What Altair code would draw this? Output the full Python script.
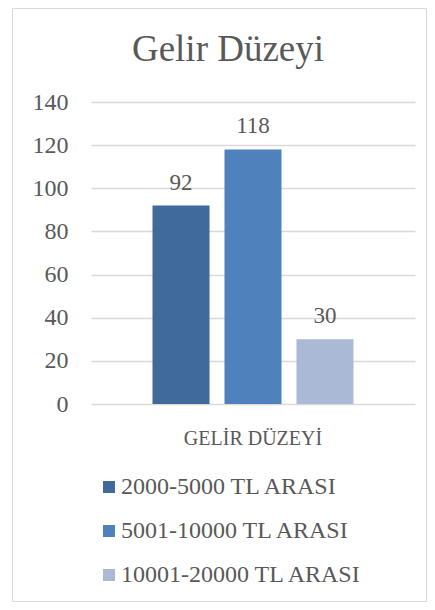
import altair as alt
import pandas as pd

title_text = ["Gelir Düzeyi"]
category = ["GELİR DÜZEYİ"]
series = ["2000-5000 TL ARASI", "5001-10000 TL ARASI", "10001-20000 TL ARASI"]
values = [92, 118, 30]
colors = ["#3f6a9a", "#4f81bd", "#aab9d6"]
y_ticks = [0, 20, 40, 60, 80, 100, 120, 140]

FONT = "Liberation Serif"
GREY = "#595959"

df = pd.DataFrame({"cat": category * len(series), "series": series, "value": values})
frame_df = pd.DataFrame({"t": title_text})

x_enc = alt.X("cat:N", title=None,
              scale=alt.Scale(paddingInner=0, paddingOuter=0.306),
              axis=alt.Axis(labelAngle=0, domain=False, ticks=False, labelFontSize=20,
                            labelFont=FONT, labelColor=GREY, labelPadding=24, grid=False))
xoff = alt.XOffset("series:N", sort=series,
                   scale=alt.Scale(paddingInner=0.208, paddingOuter=0))
y_enc = alt.Y("value:Q", title=None,
              scale=alt.Scale(domain=[0, 140], nice=False),
              axis=alt.Axis(values=y_ticks, domain=False, ticks=False, labelFontSize=24,
                            labelFont=FONT, labelColor=GREY, labelPadding=23,
                            gridColor="#d9d9d9", gridWidth=1.5))

bars = alt.Chart(df).mark_bar().encode(
    x=x_enc, xOffset=xoff, y=y_enc,
    color=alt.Color("series:N", sort=series,
                    scale=alt.Scale(domain=series, range=colors),
                    legend=alt.Legend(title=None, orient="none", legendX=6, legendY=373,
                                      direction="vertical", symbolType="square",
                                      symbolSize=144, symbolStrokeWidth=0,
                                      labelFontSize=24, labelFont=FONT, labelColor=GREY,
                                      labelOffset=0, rowPadding=20, padding=0,
                                      labelLimit=400)),
)

labels = alt.Chart(df).mark_text(dy=-16, baseline="alphabetic", fontSize=23,
                                 font=FONT, color=GREY).encode(
    x=alt.X("cat:N"), xOffset=alt.XOffset("series:N", sort=series),
    y=alt.Y("value:Q"), text=alt.Text("value:Q"),
)

border = alt.Chart(frame_df).mark_rect(fill=None, stroke="#d9d9d9", strokeWidth=1).encode(
    x=alt.value(-78.5), x2=alt.value(335.5), y=alt.value(-93.5), y2=alt.value(499.5)
)

title = alt.Chart(frame_df).mark_text(fontSize=37, font=FONT, color=GREY,
                                      baseline="alphabetic", align="center").encode(
    x=alt.value(137), y=alt.value(-41), text="t:N"
)

chart = alt.layer(border, bars, labels, title).properties(
    width=324, height=302,
    autosize=alt.AutoSizeParams(type="none"),
    padding={"left": 83, "top": 94, "right": 12, "bottom": 198},
).configure_view(stroke=None)

chart.save("out.html", embed_options={"renderer": "svg", "actions": False})
